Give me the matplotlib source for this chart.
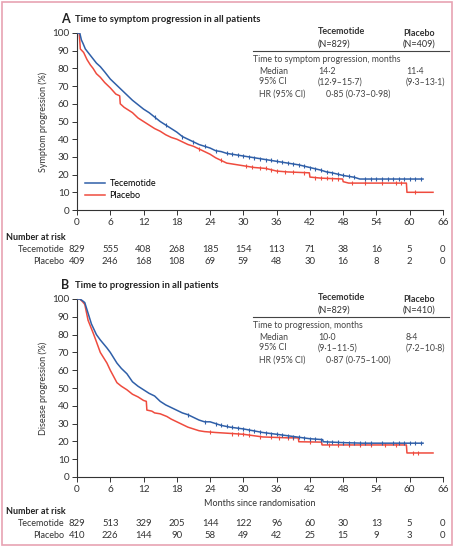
import matplotlib.pyplot as plt
import numpy as np
from matplotlib.lines import Line2D
from matplotlib.patches import Rectangle

plt.rcParams['font.family'] = ['Lato', 'DejaVu Sans']

# ---- data ----
months = [0, 6, 12, 18, 24, 30, 36, 42, 48, 54, 60, 66]
yticks = [0, 10, 20, 30, 40, 50, 60, 70, 80, 90, 100]

# panel A: time to symptom progression
a_tec_t = [0, 0.5, 0.8, 1.1, 1.5, 2, 2.5, 3, 3.5, 4.2, 5, 6, 7, 8, 9, 10, 11, 12, 13, 14, 15, 16, 17, 18,
           19, 20, 21, 22, 23, 24, 25, 26, 27, 28, 30, 32, 34, 36, 38, 40, 42, 44, 45, 46, 48, 50, 51, 55, 62.4]
a_tec_s = [100, 100, 96, 94, 91, 89, 87, 85, 83, 81, 78, 74, 71, 68, 65, 62, 59.5, 57, 55, 52.5, 50, 48, 46, 44,
           41.5, 40, 38.5, 37, 36, 35, 33.5, 33, 32, 31.5, 30.5, 29.5, 28.5, 27.5, 26.5, 25.5, 24, 22.5, 21.5, 21,
           19.5, 18.5, 17.5, 17.5, 17.5]
a_pla_t = [0, 0.4, 0.6, 1.2, 1.8, 2.4, 2.9, 3.5, 4.2, 5, 6, 7, 7.7, 7.8, 8.5, 9, 10, 11, 12, 13, 14, 15, 16, 17,
           18, 19, 20, 21, 22, 23, 24, 25, 26, 27, 28, 30, 32, 34, 36, 38, 41.9, 42, 44, 47.9, 48, 49, 59.4, 59.5, 64.2]
a_pla_s = [100, 100, 91, 89, 85, 82, 80, 77, 75, 72, 69, 65.5, 64.5, 60, 58, 57, 55, 52, 50, 48, 46, 44.5, 42.5, 41,
           40, 38.5, 37, 36, 34.5, 33, 31.5, 29.5, 28, 26.5, 26, 25, 24, 23.5, 22, 21.5, 21, 18.6, 18, 17.5, 16, 15.2,
           15.2, 10, 10]
a_tec_cens = [14, 16, 19, 21, 23, 25, 27, 28, 29, 30, 31, 32, 33, 34, 35, 36, 37, 38, 39, 40, 41, 42, 43, 44, 45,
              46, 47, 48, 49, 50, 52, 53, 54, 55, 56, 57, 58, 59, 60, 61, 62]
a_pla_cens = [22, 26, 30.5, 31.5, 33, 34, 35, 36, 37.5, 39, 41, 43, 44, 45, 46, 47, 49.5, 52, 55, 57.5, 58.5, 61]
a_risk_tec = [829, 555, 408, 268, 185, 154, 113, 71, 38, 16, 5, 0]
a_risk_pla = [409, 246, 168, 108, 69, 59, 48, 30, 16, 8, 2, 0]

# panel B: time to progression
b_tec_t = [0, 0.5, 1, 1.4, 1.8, 2.2, 2.6, 2.9, 3.5, 4.2, 5, 5.4, 6, 7.2, 8, 9, 10, 11, 12, 13, 14, 15, 16, 17, 18,
           19, 20, 21, 22, 23, 24, 25, 26, 27.6, 30, 33.5, 36, 39.6, 42, 44.3, 44.4, 48, 51.6, 62.4]
b_tec_s = [100, 100, 99, 98, 94, 90, 86, 84, 80, 77, 74, 72.5, 70, 64, 61, 58, 53.5, 51, 49, 47, 45.5, 42.5, 40.5,
           39, 37.5, 36, 35, 33.5, 32, 31, 31, 30, 29, 28, 27, 25, 24, 22.5, 21.5, 21, 19.8, 19.3, 19, 19]
b_pla_t = [0, 0.5, 1, 1.4, 2, 2.9, 3.5, 4.2, 5, 5.4, 6, 7.2, 8, 9, 10, 11, 12, 12.5, 12.6, 13.5, 14, 15, 16.2, 17,
           18, 19, 20, 21, 22, 23, 25, 27.6, 30, 33.5, 38, 39.9, 40, 44.1, 44.2, 59.4, 59.5, 64.2]
b_pla_s = [100, 100, 98.5, 97, 88, 81, 76, 70, 66, 64, 60, 53, 51, 49, 46.5, 45, 43, 42.5, 37.6, 37, 36, 35.5, 34,
           32.5, 31, 29.5, 28, 27, 26, 25.5, 25, 24.5, 24, 22.5, 22, 22, 19.8, 19.6, 18, 18, 13.5, 13.5]
b_tec_cens = [20, 23, 25, 26, 27, 28, 29, 30, 31, 32, 33, 34, 35, 36, 37, 38, 39, 40, 41, 42, 43, 44, 45, 46, 47,
              48, 49, 50, 51, 52, 53, 55, 57, 58, 59, 60, 61, 62]
b_pla_cens = [24, 28, 29, 30, 31, 33, 35, 36.5, 38, 39, 42, 44, 45.5, 47, 49, 51, 53, 55.5, 57.5, 60.5, 61.5]
b_risk_tec = [829, 513, 329, 205, 144, 122, 96, 60, 30, 13, 5, 0]
b_risk_pla = [410, 226, 144, 90, 58, 49, 42, 25, 15, 9, 3, 0]

blue = "#2f5fa8"
red = "#ef4b3e"
W, H = 457, 547

fig = plt.figure(figsize=(W / 100, H / 100), dpi=100)


def px(x, y):
    return x / W, 1 - y / H


def panel(top, bot, tec_t, tec_s, pla_t, pla_s, tec_c, pla_c, ylabel, legend):
    l, b = px(77, bot)
    ax = fig.add_axes([l, b, (443 - 77) / W, (bot - top) / H])
    ax.plot(pla_t, pla_s, color=red, lw=1.1, label="Placebo", zorder=2)
    ax.plot(tec_t, tec_s, color=blue, lw=1.1, label="Tecemotide", zorder=3)
    ax.plot(pla_c, np.interp(pla_c, pla_t, pla_s), ls="none", marker="|", ms=3.5, mew=0.8, color=red, zorder=2)
    ax.plot(tec_c, np.interp(tec_c, tec_t, tec_s), ls="none", marker="|", ms=3.5, mew=0.8, color=blue, zorder=3)
    ax.set_xlim(0, 66)
    ax.set_ylim(0, 100)
    ax.set_xticks(months)
    ax.set_yticks(yticks)
    ax.tick_params(labelsize=7.2, length=3.5, width=0.7, pad=2, colors="#333333")
    for s in ["top", "right"]:
        ax.spines[s].set_visible(False)
    for s in ["left", "bottom"]:
        ax.spines[s].set_linewidth(0.8)
        ax.spines[s].set_color("#333333")
    ax.set_ylabel(ylabel, fontsize=6.5, color="#333333", labelpad=3)
    if legend:
        h, lab = ax.get_legend_handles_labels()
        ax.legend(h[::-1], lab[::-1], loc="lower left", bbox_to_anchor=(0.005, 0.02), frameon=False,
                  fontsize=6.5, handlelength=2.2, handletextpad=0.5, labelspacing=0.3, borderpad=0.2)
    return ax


def risk(ax, y0, tec, pla):
    fig.text(*px(6, y0), "Number at risk", fontsize=6.5, fontweight="bold", va="center", color="#222222")
    for row, (name, vals) in enumerate([("Tecemotide", tec), ("Placebo", pla)]):
        yy = y0 + 13 + row * 11
        fig.text(*px(64, yy), name, fontsize=6.5, ha="right", va="center", color="#333333")
        for m, v in zip(months, vals):
            xf = (ax.transData.transform((m, 0))[0]) / (W)
            fig.text(xf, px(0, yy)[1], str(v), fontsize=6.8, ha="center", va="center", color="#333333")


def table(y0, title, tec_n, pla_n, med, ci, hr):
    fig.text(*px(318, y0), "Tecemotide", fontsize=6.5, fontweight="bold", va="center", color="#333333")
    fig.text(*px(318, y0 + 12), "(N=%d)" % tec_n, fontsize=6.5, va="center", color="#333333")
    fig.text(*px(403, y0 + 1), "Placebo", fontsize=6.5, fontweight="bold", va="center", color="#333333")
    fig.text(*px(403, y0 + 12), "(N=%d)" % pla_n, fontsize=6.5, va="center", color="#333333")
    x1, yl = px(253, y0 + 19)
    x2, _ = px(449, y0 + 19)
    fig.add_artist(Line2D([x1, x2], [yl, yl], color="#444444", lw=0.8))
    fig.text(*px(253, y0 + 28), title, fontsize=6.3, va="center", color="#444444")
    rows = [("Median", med[0], med[1], 0), ("95% CI", ci[0], ci[1], 10)]
    for lab, t, p, dy in rows:
        fig.text(*px(259, y0 + 40 + dy), lab, fontsize=6.3, va="center", color="#444444")
        fig.text(*px(318, y0 + 40 + dy), t, fontsize=6.3, va="center", color="#444444")
        fig.text(*px(406, y0 + 40 + dy), p, fontsize=6.3, va="center", color="#444444")
    fig.text(*px(259, y0 + 62), "HR (95% CI)", fontsize=6.3, va="center", color="#444444")
    fig.text(*px(326, y0 + 62), hr, fontsize=6.3, va="center", color="#444444")


axA = panel(33, 210, a_tec_t, a_tec_s, a_pla_t, a_pla_s, a_tec_cens, a_pla_cens, "Symptom progression (%)", True)
axB = panel(299, 477, b_tec_t, b_tec_s, b_pla_t, b_pla_s, b_tec_cens, b_pla_cens, "Disease progression (%)", False)
axB.set_xlabel("Months since randomisation", fontsize=6.5, color="#333333", labelpad=4)

fig.text(*px(61, 19), "A", fontsize=9, fontweight="bold", va="center", color="#222222")
fig.text(*px(75, 19), "Time to symptom progression in all patients", fontsize=6.8, fontweight="bold",
         va="center", color="#222222")
fig.text(*px(61, 285), "B", fontsize=9, fontweight="bold", va="center", color="#222222")
fig.text(*px(75, 285), "Time to progression in all patients", fontsize=6.8, fontweight="bold",
         va="center", color="#222222")

table(32, "Time to symptom progression, months", 829, 409, ("14\u00b72", "11\u00b74"),
      ("(12\u00b79\u201315\u00b77)", "(9\u00b73\u201313\u00b71)"), "0\u00b785 (0\u00b773\u20130\u00b798)")
table(298, "Time to progression, months", 829, 410, ("10\u00b70", "8\u00b74"),
      ("(9\u00b71\u201311\u00b75)", "(7\u00b72\u201310\u00b78)"), "0\u00b787 (0\u00b775\u20131\u00b700)")

risk(axA, 237, a_risk_tec, a_risk_pla)
risk(axB, 511, b_risk_tec, b_risk_pla)

fig.add_artist(Rectangle(px(2, 545), 450 / W, 543 / H, fill=False, ec="#e8a3b3", lw=1.2))

fig.savefig("out.png", dpi=100)
